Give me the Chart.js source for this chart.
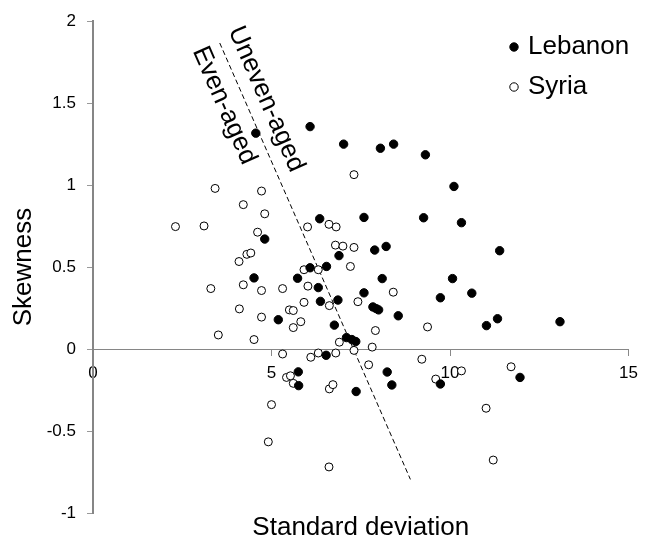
<!DOCTYPE html>
<html>
<head>
<meta charset="utf-8">
<title>Skewness vs standard deviation</title>
<script src="https://cdn.jsdelivr.net/npm/chart.js@4.4.1/dist/chart.umd.min.js"></script>
<style>
  html, body { margin: 0; padding: 0; background: #fff; }
  canvas { display: block; }
</style>
</head>
<body>
<canvas id="chart" width="646" height="547"></canvas>
<script>
// Lebanon stands (filled markers)
const lebanonX = [4.56, 6.08, 7.02, 8.05, 8.42, 9.31, 10.11, 6.35, 7.59, 9.26, 10.32, 4.81,
  7.89, 8.21, 11.39, 6.89, 6.08, 6.54, 4.51, 5.73, 8.10, 10.07, 6.31, 7.59, 10.61, 9.73,
  6.37, 6.86, 7.84, 7.93, 8.00, 8.55, 5.19, 6.76, 11.02, 11.33, 13.08, 7.10, 7.25, 7.36,
  6.53, 5.75, 5.76, 8.24, 8.37, 7.37, 9.73, 11.96];
const lebanonY = [1.317, 1.357, 1.25, 1.225, 1.25, 1.185, 0.992, 0.795, 0.803, 0.801, 0.771, 0.671,
  0.604, 0.626, 0.60, 0.57, 0.496, 0.504, 0.434, 0.432, 0.430, 0.43, 0.375, 0.343, 0.341, 0.313,
  0.291, 0.299, 0.257, 0.247, 0.239, 0.203, 0.179, 0.146, 0.143, 0.185, 0.167, 0.070, 0.058, 0.046,
  -0.038, -0.139, -0.223, -0.14, -0.219, -0.259, -0.213, -0.173];

// Syria stands (open markers)
const syriaX = [7.31, 3.42, 4.72, 4.21, 4.81, 6.61, 6.81, 6.01, 2.31, 3.11, 4.61, 4.31, 4.42,
  4.09, 6.79, 7.00, 7.31, 7.21, 5.91, 6.31, 3.30, 4.21, 4.72, 5.31, 6.02, 8.41, 5.91, 6.62,
  7.42, 4.10, 5.50, 5.61, 4.72, 5.82, 5.61, 9.37, 7.91, 3.51, 4.51, 6.90, 7.82, 7.31, 5.31,
  6.10, 6.31, 6.80, 9.21, 7.72, 10.32, 11.71, 9.60, 5.42, 5.53, 5.61, 6.62, 6.72, 5.00, 4.91,
  6.61, 11.01, 11.21];
const syriaY = [1.064, 0.98, 0.964, 0.881, 0.825, 0.761, 0.745, 0.745, 0.747, 0.751, 0.713, 0.578, 0.586,
  0.534, 0.634, 0.628, 0.620, 0.504, 0.484, 0.484, 0.369, 0.392, 0.357, 0.369, 0.384, 0.347, 0.285, 0.265,
  0.289, 0.245, 0.239, 0.235, 0.195, 0.167, 0.131, 0.135, 0.113, 0.086, 0.058, 0.042, 0.012, -0.008, -0.030,
  -0.050, -0.024, -0.024, -0.062, -0.096, -0.133, -0.108, -0.183, -0.173, -0.163, -0.209, -0.243, -0.217, -0.339, -0.566,
  -0.719, -0.361, -0.677];

// dashed divider between even- and uneven-aged stands
const dividerX = [3.55, 8.89];
const dividerY = [1.867, -0.795];

const xTicks = [0, 5, 10, 15];
const yTicks = [-1, -0.5, 0, 0.5, 1, 1.5, 2];

const FONT = '"Liberation Sans", Arial, sans-serif';

const toPoints = (xs, ys) => xs.map((x, i) => ({ x: x, y: ys[i] }));

const decorations = {
  id: 'decorations',
  afterDraw(chart) {
    const { ctx, chartArea, scales } = chart;
    ctx.save();
    ctx.fillStyle = '#000';
    ctx.font = '26px ' + FONT;

    // x axis title
    ctx.textAlign = 'center';
    ctx.textBaseline = 'middle';
    ctx.fillText('Standard deviation', (chartArea.left + chartArea.right) / 2, chartArea.bottom + 15);

    // labels either side of the divider
    const x0 = scales.x.getPixelForValue(dividerX[0]);
    const y0 = scales.y.getPixelForValue(dividerY[0]);
    const x1 = scales.x.getPixelForValue(dividerX[1]);
    const y1 = scales.y.getPixelForValue(dividerY[1]);
    const ang = Math.atan2(y1 - y0, x1 - x0);
    const dx = Math.cos(ang), dy = Math.sin(ang);
    const label = (text, along, off) => {
      ctx.save();
      ctx.translate(x0 + dx * along + dy * off, y0 + dy * along - dx * off);
      ctx.rotate(ang);
      ctx.fillText(text, 0, 0);
      ctx.restore();
    };
    label('Uneven-aged', 70, 20);
    label('Even-aged', 59, -21);

    // legend, top right
    ctx.textAlign = 'left';
    chart.data.datasets.slice(0, 2).forEach((ds, i) => {
      const ly = 47 + i * 40;
      ctx.beginPath();
      ctx.arc(514, ly, 4.2, 0, Math.PI * 2);
      ctx.fillStyle = ds.backgroundColor;
      ctx.fill();
      ctx.lineWidth = 1;
      ctx.strokeStyle = '#000';
      ctx.stroke();
      ctx.fillStyle = '#000';
      ctx.fillText(ds.label, 528, ly);
    });
    ctx.restore();
  }
};

new Chart(document.getElementById('chart'), {
  type: 'scatter',
  data: {
    datasets: [
      {
        label: 'Lebanon',
        data: toPoints(lebanonX, lebanonY),
        backgroundColor: '#000',
        borderColor: '#000',
        borderWidth: 1,
        pointRadius: 4.2
      },
      {
        label: 'Syria',
        data: toPoints(syriaX, syriaY),
        backgroundColor: '#fff',
        borderColor: '#000',
        borderWidth: 1,
        pointRadius: 4
      },
      {
        label: 'divider',
        data: toPoints(dividerX, dividerY),
        showLine: true,
        borderColor: '#000',
        borderWidth: 1,
        borderDash: [5, 3],
        pointRadius: 0,
        order: 5
      }
    ]
  },
  options: {
    responsive: false,
    animation: false,
    layout: { padding: { left: 0, top: 15, right: 11, bottom: 34 } },
    plugins: {
      legend: { display: false },
      tooltip: { enabled: false }
    },
    scales: {
      x: {
        type: 'linear',
        position: { y: 0 },
        min: 0,
        max: 15,
        afterBuildTicks: scale => { scale.ticks = xTicks.map(v => ({ value: v })); },
        afterFit: scale => { scale.height = 0; },
        grid: { drawOnChartArea: false, drawTicks: true, tickLength: 6, color: '#888' },
        border: { display: true, color: '#868686', width: 1 },
        ticks: { color: '#000', padding: 8, maxRotation: 0, callback: v => String(v), font: { family: FONT, size: 17 } }
      },
      y: {
        type: 'linear',
        position: 'left',
        min: -1,
        max: 2,
        afterBuildTicks: scale => { scale.ticks = yTicks.map(v => ({ value: v })); },
        afterFit: scale => { scale.width = 93; },
        grid: { drawOnChartArea: false, drawTicks: true, tickLength: 6, color: '#999' },
        border: { display: true, color: '#868686', width: 2 },
        ticks: { color: '#000', padding: 11, callback: v => String(v), font: { family: FONT, size: 17 } },
        title: {
          display: true,
          text: 'Skewness',
          color: '#000',
          padding: { top: 8, bottom: 0 },
          font: { family: FONT, size: 26 }
        }
      }
    }
  },
  plugins: [decorations]
});
</script>
</body>
</html>
